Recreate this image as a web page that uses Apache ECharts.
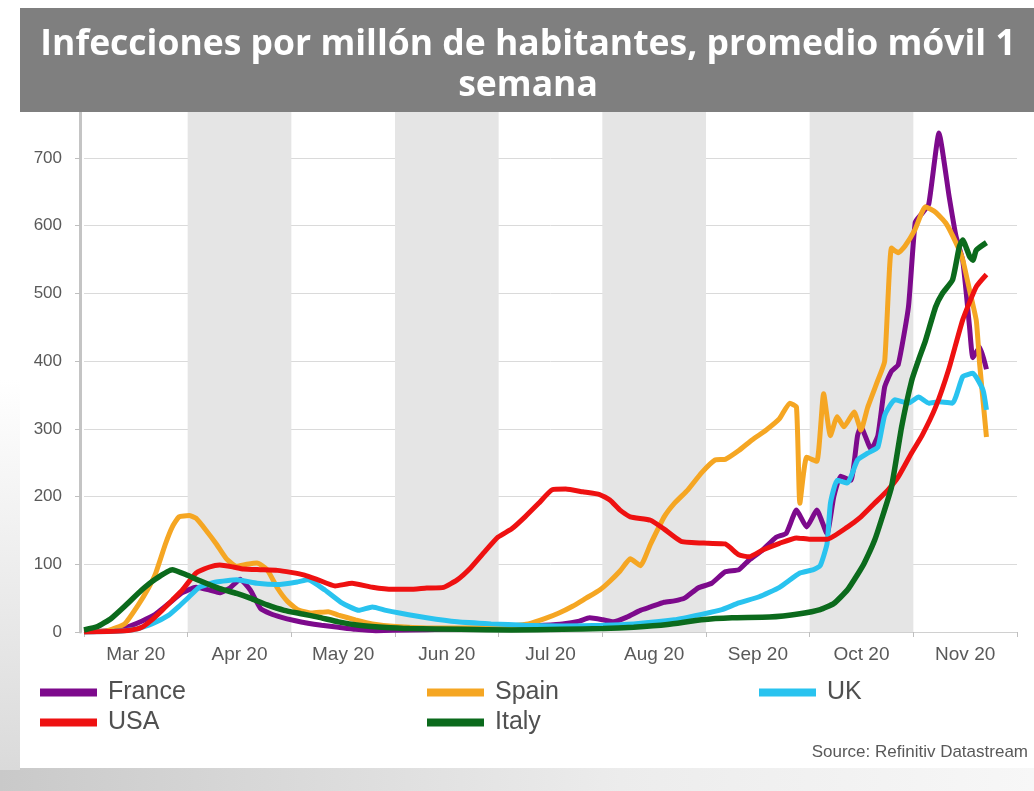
<!DOCTYPE html>
<html>
<head>
<meta charset="utf-8">
<script src="https://cdn.jsdelivr.net/npm/echarts@6/dist/echarts.min.js"></script>
<style>
html,body{margin:0;padding:0;background:#fff;}
#chart{width:1034px;height:791px;}
</style>
</head>
<body>
<div id="chart"></div>
<script>
// ---- data ----
const titleLine1 = 'Infecciones por millón de habitantes, promedio móvil 1';
const titleLine2 = 'semana';
const sourceText = 'Source: Refinitiv Datastream';
const months = ['Mar 20','Apr 20','May 20','Jun 20','Jul 20','Aug 20','Sep 20','Oct 20','Nov 20'];
const seriesNames = ['France','Spain','UK','USA','Italy'];

const france = [
 ['2020-03-01',0],['2020-03-08',2],['2020-03-13',6],['2020-03-18',16],['2020-03-22',26],['2020-03-26',42],
 ['2020-03-30',58],['2020-04-03',66],['2020-04-07',62],['2020-04-10',58],['2020-04-13',65],['2020-04-16',78],
 ['2020-04-19',62],['2020-04-22',35],['2020-04-25',27],['2020-04-28',22],['2020-05-02',17],['2020-05-06',13],
 ['2020-05-10',10],['2020-05-15',7],['2020-05-20',4],['2020-05-26',2],['2020-06-05',3],['2020-06-15',4],
 ['2020-06-25',5],['2020-07-05',6],['2020-07-12',9],['2020-07-20',12],['2020-07-25',16],['2020-07-28',21],
 ['2020-08-01',18],['2020-08-04',15],['2020-08-08',22],['2020-08-12',32],['2020-08-15',37],['2020-08-19',44],
 ['2020-08-22',46],['2020-08-25',50],['2020-08-29',65],['2020-09-02',72],['2020-09-06',89],['2020-09-10',92],
 ['2020-09-13',106],['2020-09-17',121],['2020-09-21',140],['2020-09-24',146],['2020-09-27',180],['2020-09-30',155],
 ['2020-10-03',180],['2020-10-06',145],['2020-10-08',200],['2020-10-10',230],['2020-10-13',224],['2020-10-15',290],
 ['2020-10-16',303],['2020-10-19',270],['2020-10-21',290],['2020-10-23',362],['2020-10-25',385],['2020-10-27',395],
 ['2020-10-30',480],['2020-11-01',605],['2020-11-03',618],['2020-11-05',632],['2020-11-08',737],['2020-11-11',643],
 ['2020-11-13',585],['2020-11-15',549],['2020-11-17',451],['2020-11-18',405],['2020-11-20',421],['2020-11-22',388]
];
const spain = [
 ['2020-03-01',0],['2020-03-08',2],['2020-03-13',12],['2020-03-17',40],['2020-03-20',65],['2020-03-22',85],
 ['2020-03-25',130],['2020-03-27',155],['2020-03-29',170],['2020-04-01',172],['2020-04-03',168],['2020-04-06',150],
 ['2020-04-09',130],['2020-04-12',108],['2020-04-15',97],['2020-04-18',100],['2020-04-21',102],['2020-04-24',92],
 ['2020-04-27',65],['2020-04-30',45],['2020-05-03',33],['2020-05-07',28],['2020-05-12',30],['2020-05-15',25],
 ['2020-05-20',18],['2020-05-25',12],['2020-06-01',8],['2020-06-10',6],['2020-06-20',6],['2020-06-30',7],
 ['2020-07-05',9],['2020-07-10',12],['2020-07-15',20],['2020-07-19',28],['2020-07-23',38],['2020-07-27',50],
 ['2020-07-31',62],['2020-08-03',75],['2020-08-06',90],['2020-08-09',108],['2020-08-12',98],['2020-08-15',130],
 ['2020-08-19',170],['2020-08-22',190],['2020-08-26',210],['2020-08-30',235],['2020-09-03',254],['2020-09-06',255],
 ['2020-09-10',268],['2020-09-14',284],['2020-09-18',298],['2020-09-22',315],['2020-09-25',338],['2020-09-27',332],
 ['2020-09-28',190],['2020-09-30',258],['2020-10-03',252],['2020-10-05',352],['2020-10-07',290],['2020-10-09',318],
 ['2020-10-11',303],['2020-10-14',325],['2020-10-16',298],['2020-10-18',332],['2020-10-21',372],['2020-10-23',400],
 ['2020-10-25',567],['2020-10-27',560],['2020-10-29',570],['2020-11-01',595],['2020-11-04',628],['2020-11-07',620],
 ['2020-11-10',604],['2020-11-13',575],['2020-11-15',550],['2020-11-17',505],['2020-11-19',460],['2020-11-20',395],
 ['2020-11-22',288]
];
const uk = [
 ['2020-03-01',0],['2020-03-10',1],['2020-03-16',4],['2020-03-21',12],['2020-03-26',25],['2020-03-29',38],
 ['2020-04-01',52],['2020-04-04',66],['2020-04-09',74],['2020-04-15',77],['2020-04-21',72],['2020-04-27',70],
 ['2020-05-03',74],['2020-05-06',77],['2020-05-11',62],['2020-05-16',43],['2020-05-21',32],['2020-05-25',37],
 ['2020-05-29',32],['2020-06-02',28],['2020-06-10',21],['2020-06-19',15],['2020-06-29',12],['2020-07-09',10],
 ['2020-07-20',9],['2020-08-01',10],['2020-08-10',12],['2020-08-22',18],['2020-08-30',26],['2020-09-05',33],
 ['2020-09-10',43],['2020-09-16',52],['2020-09-22',66],['2020-09-28',87],['2020-10-02',92],['2020-10-04',98],
 ['2020-10-06',130],['2020-10-07',190],['2020-10-09',224],['2020-10-12',220],['2020-10-15',254],['2020-10-18',264],
 ['2020-10-21',273],['2020-10-23',320],['2020-10-26',343],['2020-10-30',338],['2020-11-02',347],['2020-11-05',338],
 ['2020-11-08',340],['2020-11-12',338],['2020-11-15',377],['2020-11-18',382],['2020-11-21',357],['2020-11-22',328]
];
const usa = [
 ['2020-03-01',0],['2020-03-10',1],['2020-03-15',3],['2020-03-18',7],['2020-03-21',18],['2020-03-24',32],
 ['2020-03-27',47],['2020-03-30',62],['2020-04-03',87],['2020-04-07',96],['2020-04-10',99],['2020-04-14',96],
 ['2020-04-17',93],['2020-04-22',92],['2020-04-27',91],['2020-05-01',88],['2020-05-05',84],['2020-05-09',77],
 ['2020-05-14',68],['2020-05-19',72],['2020-05-25',66],['2020-05-31',63],['2020-06-05',63],['2020-06-10',65],
 ['2020-06-15',66],['2020-06-19',77],['2020-06-23',95],['2020-06-27',118],['2020-07-01',140],['2020-07-05',152],
 ['2020-07-09',170],['2020-07-13',190],['2020-07-17',210],['2020-07-21',211],['2020-07-26',207],['2020-07-31',203],
 ['2020-08-03',195],['2020-08-06',180],['2020-08-09',170],['2020-08-15',165],['2020-08-19',152],['2020-08-24',134],
 ['2020-09-01',131],['2020-09-06',130],['2020-09-10',114],['2020-09-13',111],['2020-09-17',121],['2020-09-22',131],
 ['2020-09-27',139],['2020-10-01',137],['2020-10-06',137],['2020-10-12',155],['2020-10-16',170],['2020-10-20',190],
 ['2020-10-24',210],['2020-10-27',229],['2020-10-31',265],['2020-11-03',290],['2020-11-07',332],['2020-11-11',390],
 ['2020-11-15',461],['2020-11-19',510],['2020-11-22',528]
];
const italy = [
 ['2020-03-01',3],['2020-03-05',8],['2020-03-09',20],['2020-03-13',38],['2020-03-18',62],['2020-03-22',78],
 ['2020-03-27',92],['2020-03-31',85],['2020-04-04',76],['2020-04-10',64],['2020-04-15',57],['2020-04-19',50],
 ['2020-04-24',40],['2020-04-29',32],['2020-05-04',27],['2020-05-09',22],['2020-05-15',15],['2020-05-21',10],
 ['2020-05-28',7],['2020-06-05',5],['2020-06-20',4],['2020-07-05',3],['2020-07-20',4],['2020-08-01',5],
 ['2020-08-10',7],['2020-08-20',11],['2020-08-30',18],['2020-09-08',21],['2020-09-19',22],['2020-09-28',27],
 ['2020-10-04',33],['2020-10-08',42],['2020-10-12',62],['2020-10-15',85],['2020-10-17',102],['2020-10-20',135],
 ['2020-10-22',165],['2020-10-25',214],['2020-10-28',303],['2020-10-31',372],['2020-11-02',402],['2020-11-04',430],
 ['2020-11-07',480],['2020-11-09',500],['2020-11-12',520],['2020-11-14',569],['2020-11-15',579],['2020-11-17',555],
 ['2020-11-18',549],['2020-11-19',564],['2020-11-22',575]
];
const seriesData = [france, spain, uk, usa, italy];
const seriesColors = ['#7d0a8c', '#f5a623', '#29c3ef', '#ee1111', '#0b6a1c'];

// ---- chart ----
const chart = echarts.init(document.getElementById('chart'), null, {renderer: 'canvas'});
const labelColor = '#595959';
const legendText = {fontSize: 25, color: '#505050', fontFamily: 'Liberation Sans, Arial, sans-serif', padding: [0, 0, 0, 6]};
const legendBase = {top: 680, orient: 'vertical', icon: 'rect', itemWidth: 57, itemHeight: 8, itemGap: 5, padding: 0, textStyle: legendText, selectedMode: false};

const option = {
  backgroundColor: '#ffffff',
  animation: false,
  graphic: [
    {type: 'rect', z: -10, shape: {x: 0, y: 768, width: 1034, height: 23},
     style: {fill: new echarts.graphic.LinearGradient(0, 0, 1, 0, [{offset: 0, color: '#c9c9c9'}, {offset: 0.6, color: '#ececec'}, {offset: 1, color: '#f7f7f7'}])}},
    {type: 'rect', z: -10, shape: {x: 0, y: 380, width: 20, height: 390},
     style: {fill: new echarts.graphic.LinearGradient(0, 0, 0, 1, [{offset: 0, color: '#ffffff'}, {offset: 1, color: '#dadada'}])}},
    {type: 'rect', z: 100, shape: {x: 20, y: 8, width: 1014, height: 104}, style: {fill: '#7f7f7f'}},
    {type: 'text', z: 101, x: 528, y: 45,
     style: {text: titleLine1, fill: '#ffffff', font: 'bold 35.5px "Open Sans", sans-serif', align: 'center', verticalAlign: 'middle'}},
    {type: 'text', z: 101, x: 528, y: 86,
     style: {text: titleLine2, fill: '#ffffff', font: 'bold 35.5px "Open Sans", sans-serif', align: 'center', verticalAlign: 'middle'}},
    {type: 'text', z: 101, x: 1028, y: 752,
     style: {text: sourceText, fill: labelColor, font: '17px "Liberation Sans", Arial, sans-serif', align: 'right', verticalAlign: 'middle'}}
  ],
  grid: {left: 84, right: 17, top: 110.6, bottom: 159, containLabel: false},
  legend: [
    Object.assign({data: ['France', 'USA'], left: 40}, legendBase),
    Object.assign({data: ['Spain', 'Italy'], left: 427}, legendBase),
    Object.assign({data: ['UK'], left: 759}, legendBase)
  ],
  xAxis: [
    {
      type: 'category', data: months, boundaryGap: true, position: 'bottom',
      axisLine: {show: true, lineStyle: {color: '#d0d0d0', width: 1}},
      axisTick: {show: true, length: 5, lineStyle: {color: '#bfbfbf'}},
      axisLabel: {color: labelColor, fontSize: 19, margin: 13, fontFamily: 'Liberation Sans, Arial, sans-serif'},
      splitLine: {show: false},
      splitArea: {show: true, areaStyle: {color: ['rgba(255,255,255,0)', '#e5e5e5']}}
    },
    {
      type: 'time', min: '2020-03-01', max: '2020-12-01', show: false
    }
  ],
  yAxis: {
    type: 'value', min: 0, max: 770, interval: 100, offset: 4,
    axisLine: {show: true, lineStyle: {color: '#c4c4c4', width: 3}},
    axisTick: {show: true, length: 5, lineStyle: {color: '#bfbfbf'}},
    axisLabel: {color: labelColor, fontSize: 17, margin: 18, showMaxLabel: false, fontFamily: 'Liberation Sans, Arial, sans-serif'},
    splitLine: {show: true, lineStyle: {color: '#dadada', width: 1}}
  },
  series: seriesNames.map((name, i) => ({
    name: name, type: 'line', xAxisIndex: 1, data: seriesData[i],
    showSymbol: false, smooth: 0.15,
    color: seriesColors[i],
    lineStyle: {width: name === 'Italy' ? 5.5 : 5, color: seriesColors[i]},
    emphasis: {disabled: true}
  }))
};
chart.setOption(option);
</script>
</body>
</html>
